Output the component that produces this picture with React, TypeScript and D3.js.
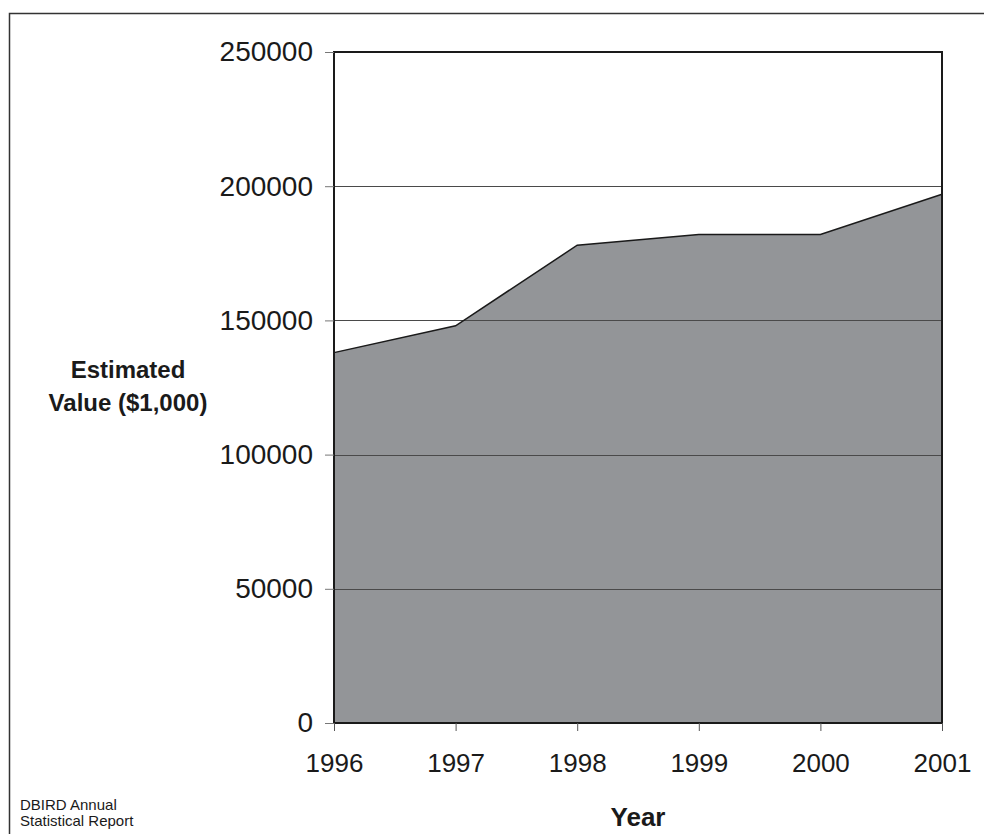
import React from 'react';
import * as d3 from 'd3';

const years = [1996, 1997, 1998, 1999, 2000, 2001];
const values = [138000, 148000, 178000, 182000, 182000, 197000];
const yTicks = [0, 50000, 100000, 150000, 200000, 250000];

const App = () => {
    const svgRef = React.useRef<SVGSVGElement>(null);
    const W = 984, H = 834;
    const plot = {left: 334, top: 52, right: 942, bottom: 723};
    const font = 'Liberation Sans, Arial, sans-serif';

    React.useEffect(() => {
        const svg = d3.select(svgRef.current);
        svg.selectAll('*').remove();

        const x = d3.scaleLinear().domain([1996, 2001]).range([plot.left, plot.right]);
        const y = d3.scaleLinear().domain([0, 250000]).range([plot.bottom, plot.top]);
        const data = years.map((yr, i) => ({yr, v: values[i]}));

        // outer frame
        svg.append('path')
            .attr('d', `M9.5,${H} V13.5 H${W}`)
            .attr('fill', 'none')
            .attr('stroke', '#333')
            .attr('stroke-width', 1.5);

        // area
        const area = d3.area<{yr: number, v: number}>()
            .x(d => x(d.yr))
            .y0(y(0))
            .y1(d => y(d.v));
        svg.append('path')
            .datum(data)
            .attr('d', area)
            .attr('fill', '#939598');

        // gridlines
        svg.append('g')
            .selectAll('line')
            .data(yTicks.filter(t => t > 0 && t < 250000))
            .enter()
            .append('line')
            .attr('x1', plot.left).attr('x2', plot.right)
            .attr('y1', d => Math.round(y(d)) + 0.5).attr('y2', d => Math.round(y(d)) + 0.5)
            .attr('stroke', '#4a4a4a')
            .attr('stroke-width', 1);

        const line = d3.line<{yr: number, v: number}>()
            .x(d => x(d.yr))
            .y(d => y(d.v));
        svg.append('path')
            .datum(data)
            .attr('d', line)
            .attr('fill', 'none')
            .attr('stroke', '#1a1a1a')
            .attr('stroke-width', 1.5);

        // plot border
        svg.append('path')
            .attr('d', `M${plot.left},${plot.bottom} V${plot.top} H${plot.right} V${plot.bottom}`)
            .attr('fill', 'none')
            .attr('stroke', '#1a1a1a')
            .attr('stroke-width', 2);
        svg.append('line')
            .attr('x1', plot.left).attr('x2', plot.right)
            .attr('y1', plot.bottom).attr('y2', plot.bottom)
            .attr('stroke', '#1a1a1a')
            .attr('stroke-width', 2);

        // y axis
        const yAxis = d3.axisLeft(y).tickValues(yTicks).tickSize(9).tickPadding(12).tickFormat(d3.format('d'));
        const ya = svg.append('g')
            .attr('transform', `translate(${plot.left},0)`)
            .call(yAxis);
        ya.select('.domain').remove();
        ya.selectAll('line').attr('stroke', '#777');
        ya.selectAll('text')
            .attr('font-family', font)
            .attr('font-size', 28)
            .attr('fill', '#1a1a1a');

        // x axis
        const xAxis = d3.axisBottom(x).tickValues(years).tickSize(8).tickPadding(23).tickFormat(d3.format('d'));
        const xa = svg.append('g')
            .attr('transform', `translate(0,${plot.bottom})`)
            .call(xAxis);
        xa.select('.domain').remove();
        xa.selectAll('line').attr('stroke', '#555');
        xa.selectAll('text')
            .attr('font-family', font)
            .attr('font-size', 26)
            .attr('fill', '#1a1a1a');

        // axis titles
        svg.append('text')
            .attr('x', (plot.left + plot.right) / 2)
            .attr('y', 826)
            .attr('text-anchor', 'middle')
            .attr('font-family', font)
            .attr('font-weight', 'bold')
            .attr('font-size', 26)
            .attr('fill', '#1a1a1a')
            .text('Year');

        const yt = svg.append('text')
            .attr('text-anchor', 'middle')
            .attr('font-family', font)
            .attr('font-weight', 'bold')
            .attr('font-size', 24)
            .attr('fill', '#1a1a1a');
        yt.append('tspan').attr('x', 128).attr('y', 378).text('Estimated');
        yt.append('tspan').attr('x', 128).attr('y', 411).text('Value ($1,000)');

        // footnote
        const fn = svg.append('text')
            .attr('font-family', font)
            .attr('font-size', 15)
            .attr('fill', '#1a1a1a');
        fn.append('tspan').attr('x', 20).attr('y', 810).text('DBIRD Annual');
        fn.append('tspan').attr('x', 20).attr('y', 826).text('Statistical Report');
    }, []);

    return (
        <svg ref={svgRef} width={W} height={H}
             style={{position: 'absolute', left: 0, top: 0, background: 'white'}}/>
    );
};

export default App;
